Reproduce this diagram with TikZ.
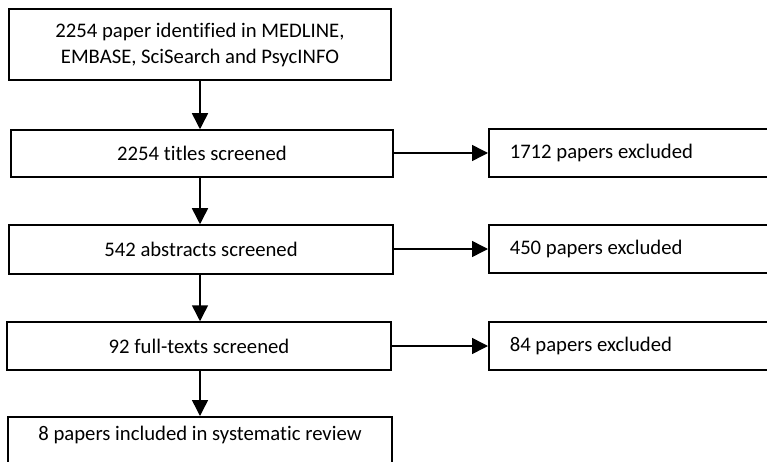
\documentclass[tikz,border=0pt]{standalone}
\usepackage{fontspec}
\setmainfont{Carlito}[Ligatures={NoCommon}]
\usetikzlibrary{arrows.meta}
\newcommand\diagfont{\fontsize{20.7pt}{26pt}\selectfont}
\newcommand\leftbox[1]{\makebox[279pt][l]{#1}}
\begin{document}
\begin{tikzpicture}[x=1pt,y=-1pt,
  box/.style={draw, line width=1.5pt, inner sep=0pt, align=center, font=\diagfont},
  side/.style={draw, line width=1.5pt, inner ysep=0pt, inner xsep=21pt, anchor=west,
    minimum height=48pt, font=\diagfont},
  conn/.style={line width=1.5pt, -{Triangle[length=16pt,width=16pt]}}]
\useasboundingbox (0,0) rectangle (767,462);
\node[box, minimum width=382pt, minimum height=71pt] (b1) at (200,44.5)
  {2254 paper identified in MEDLINE,\\EMBASE, SciSearch and PsycINFO};
\node[box, minimum width=382pt, minimum height=47pt] (b2) at (202,153.5) {2254 titles screened};
\node[box, minimum width=384pt, minimum height=49pt] (b3) at (201,249.5) {542 abstracts screened};
\node[box, minimum width=384pt, minimum height=48pt] (b4) at (199,346) {92 full-texts screened};
\node[box, anchor=north, minimum width=384pt, minimum height=60pt, text height=13pt, text depth=26pt] (b5) at (200,416)
  {8 papers included in systematic review};
\node[side] (r1) at (488,153) {\leftbox{1712 papers excluded}};
\node[side] (r2) at (488,249) {\leftbox{450 papers excluded}};
\node[side] (r3) at (488,346) {\leftbox{84 papers excluded}};
\draw[conn] (b1.south) -- (b1.south |- b2.north);
\draw[conn] (b1.south |- b2.south) -- (b1.south |- b3.north);
\draw[conn] (b1.south |- b3.south) -- (b1.south |- b4.north);
\draw[conn] (b1.south |- b4.south) -- (b1.south |- b5.north);
\draw[conn] (b2.east |- r1.west) -- (r1.west);
\draw[conn] (b3.east |- r2.west) -- (r2.west);
\draw[conn] (b4.east |- r3.west) -- (r3.west);
\end{tikzpicture}
\end{document}
